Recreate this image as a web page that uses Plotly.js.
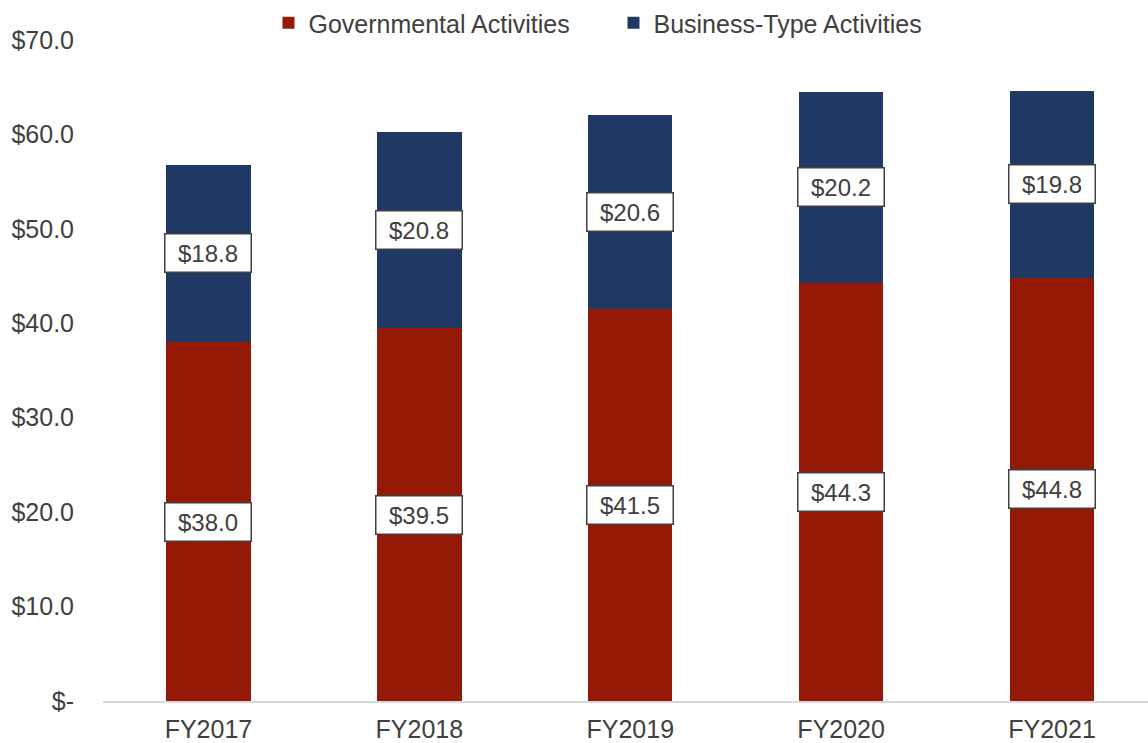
<!DOCTYPE html>
<html>
<head>
<meta charset="utf-8">
<script src="https://cdn.plot.ly/plotly-3.0.1.min.js"></script>
<style>html,body{margin:0;padding:0;background:#fff;}#chart{width:1148px;height:743px;}</style>
</head>
<body>
<div id="chart"></div>
<script>
const categories = ["FY2017", "FY2018", "FY2019", "FY2020", "FY2021"];
const governmental = [38.0, 39.5, 41.5, 44.3, 44.8];
const businessType = [18.8, 20.8, 20.6, 20.2, 19.8];
const yTickVals = [0, 10, 20, 30, 40, 50, 60, 70];
const yTickText = ["$-", "$10.0", "$20.0", "$30.0", "$40.0", "$50.0", "$60.0", "$70.0"];

const RED = "#951907";
const NAVY = "#203864";
const TXT = "#404040";
const FONT = "Liberation Sans, Arial, sans-serif";

const traces = [
  {type: "bar", name: "Governmental Activities", x: categories, y: governmental,
   marker: {color: RED, line: {width: 0}}, width: 0.4, hoverinfo: "skip"},
  {type: "bar", name: "Business-Type Activities", x: categories, y: businessType,
   marker: {color: NAVY, line: {width: 0}}, width: 0.4, hoverinfo: "skip"}
];

const fmt = v => "$" + v.toFixed(1);
const annotations = [];
const boxStyle = {showarrow: false, font: {family: FONT, size: 24, color: TXT}, bgcolor: "#ffffff",
  bordercolor: "#404040", borderwidth: 1.5, borderpad: 4, width: 77, height: 29, align: "center",
  xref: "x", yref: "y"};
categories.forEach((c, i) => {
  annotations.push(Object.assign({}, boxStyle, {x: c, y: governmental[i] / 2, text: fmt(governmental[i])}));
  annotations.push(Object.assign({}, boxStyle, {x: c, y: governmental[i] + businessType[i] / 2, text: fmt(businessType[i])}));
});

const layout = {
  width: 1148, height: 743,
  margin: {l: 102.5, r: 0, t: 38, b: 42, pad: 0},
  paper_bgcolor: "#ffffff", plot_bgcolor: "#ffffff",
  barmode: "stack",
  font: {family: FONT, size: 25, color: TXT},
  showlegend: true,
  legend: {orientation: "h", x: 0.4885, xanchor: "center", y: 1.026, yanchor: "middle",
    font: {family: FONT, size: 25, color: TXT}, traceorder: "normal", itemwidth: 30,
    entrywidth: 300, bgcolor: "rgba(0,0,0,0)"},
  xaxis: {range: [-0.5, 4.455], showgrid: false, zeroline: false, showline: true,
    linecolor: "#d9d9d9", linewidth: 1.5, ticks: "", ticklabelstandoff: 5,
    tickfont: {family: FONT, size: 25, color: TXT}, fixedrange: true},
  yaxis: {range: [0, 70], tickvals: yTickVals, ticktext: yTickText, showgrid: false,
    zeroline: false, showline: false, ticks: "", ticklabelstandoff: 28,
    tickfont: {family: FONT, size: 25, color: TXT}, fixedrange: true},
  annotations: annotations
};

Plotly.newPlot("chart", traces, layout, {displayModeBar: false, staticPlot: true});
</script>
</body>
</html>
